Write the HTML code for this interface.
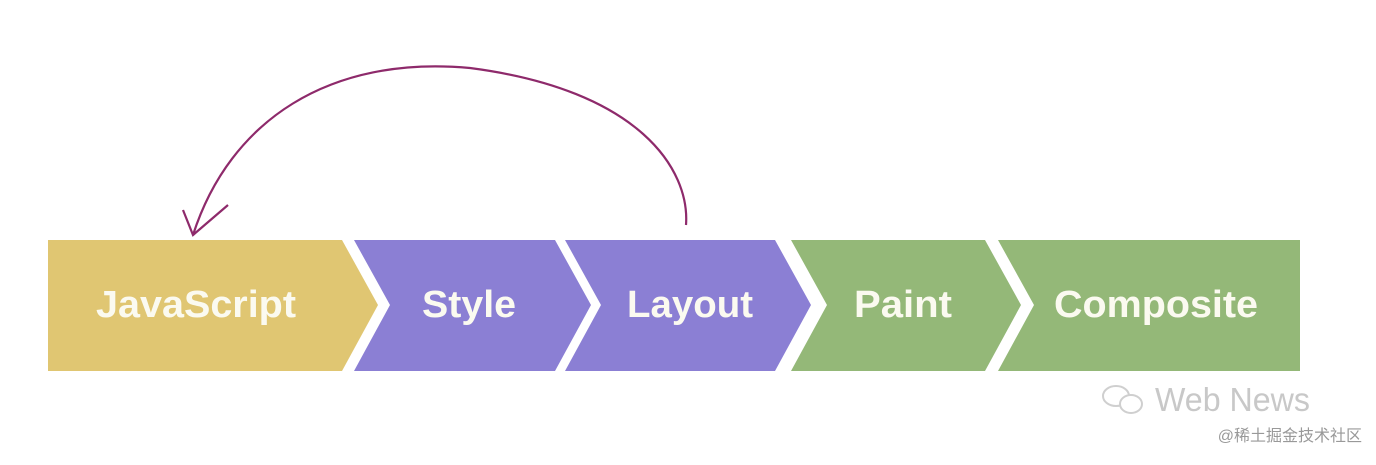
<!DOCTYPE html>
<html><head><style>
body{margin:0;background:#fff;width:1376px;height:460px;overflow:hidden}
</style></head><body>
<svg width="1376" height="460" xmlns="http://www.w3.org/2000/svg" font-family="Liberation Sans, sans-serif">
<polygon points="48,240 342,240 378,305 342,371 48,371" fill="#e0c672"/>
<polygon points="354,240 555,240 591,305 555,371 354,371 390,305" fill="#8b7fd4"/>
<polygon points="565,240 775,240 811,305 775,371 565,371 601,305" fill="#8b7fd4"/>
<polygon points="791,240 985,240 1021,305 985,371 791,371 827,305" fill="#94b878"/>
<polygon points="998,240 1300,240 1300,371 998,371 1034,305" fill="#94b878"/>
<g fill="#fbfaf0" font-weight="bold" font-size="38" text-anchor="middle">
<text x="196" y="317" textLength="200" lengthAdjust="spacingAndGlyphs">JavaScript</text>
<text x="469" y="317" textLength="94" lengthAdjust="spacingAndGlyphs">Style</text>
<text x="690" y="317" textLength="126" lengthAdjust="spacingAndGlyphs">Layout</text>
<text x="903" y="317" textLength="98" lengthAdjust="spacingAndGlyphs">Paint</text>
<text x="1156" y="317" textLength="204" lengthAdjust="spacingAndGlyphs">Composite</text>
</g>
<path d="M686,225 C690,170 640,90 470,68 C330,55 230,120 193,235" fill="none" stroke="#8e2a6b" stroke-width="2.2"/>
<path d="M183,210 L193,235 L228,205" fill="none" stroke="#8e2a6b" stroke-width="2.2"/>
<text x="1155" y="411" font-size="33" fill="#c8c8c8" textLength="155" lengthAdjust="spacingAndGlyphs">Web News</text>
<g fill="none" stroke="#cfcfcf" stroke-width="2">
<ellipse cx="1116" cy="396" rx="13" ry="10"/>
<ellipse cx="1131" cy="404" rx="11" ry="9" fill="#fff"/>
</g>
<text x="1362" y="441" font-size="16" fill="#999" text-anchor="end" font-family="Liberation Sans, Noto Sans CJK SC, sans-serif">@稀土掘金技术社区</text>
</svg>
</body></html>
